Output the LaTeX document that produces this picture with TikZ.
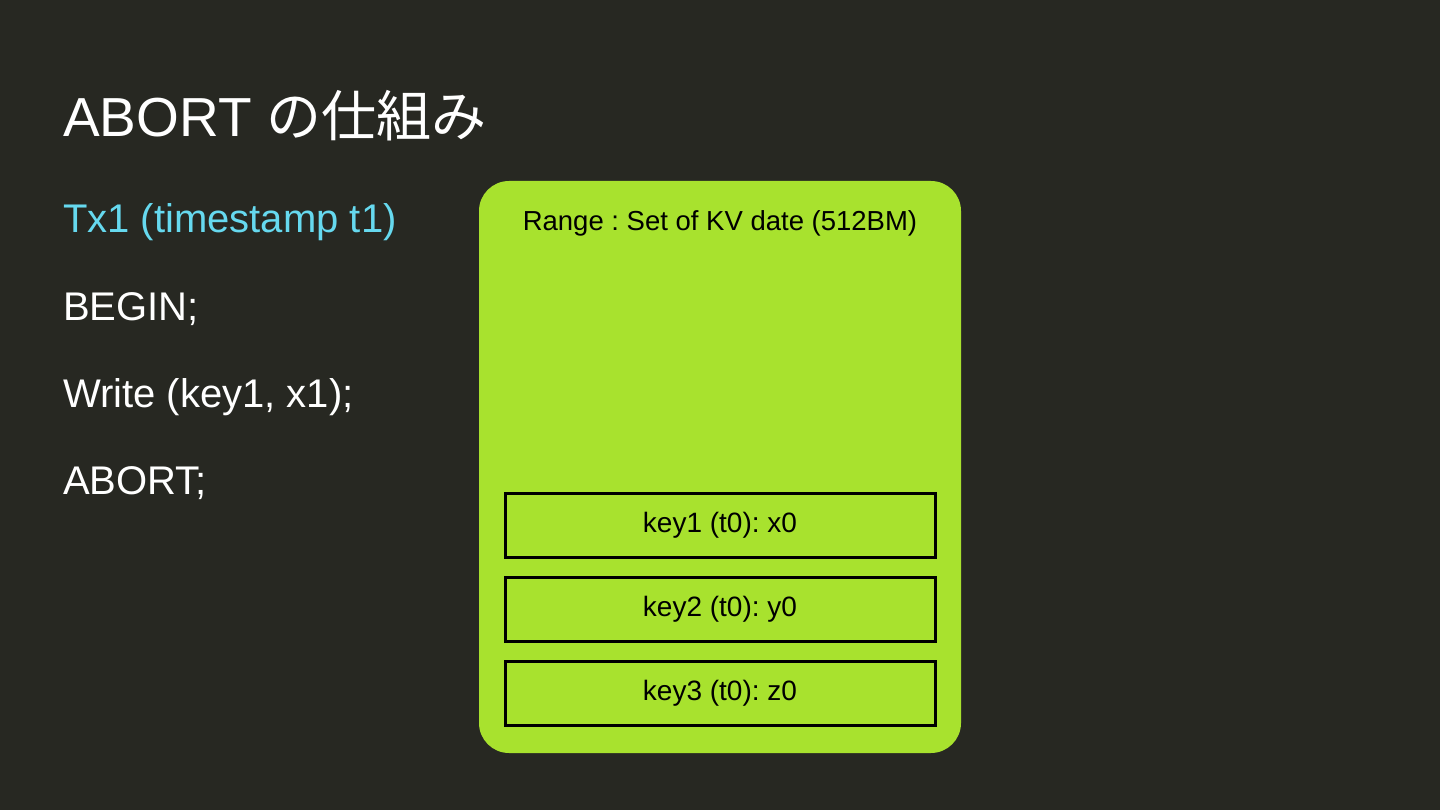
\documentclass[tikz,border=0pt]{standalone}
\usepackage{fontspec}
\setmainfont{Liberation Sans}
\newfontfamily\jpfont{Noto Sans CJK JP}
\usetikzlibrary{positioning}
\frenchspacing
\definecolor{slidebg}{HTML}{272822}
\definecolor{rangegreen}{HTML}{A8E22E}
\definecolor{txblue}{HTML}{66D9EF}
\tikzset{
  codeline/.style={anchor=base west,inner sep=0,text=white,font=\fontsize{40}{48}\selectfont},
  keybox/.style={draw=black,line width=3pt,minimum width=430pt,minimum height=64pt,inner sep=0,font=\fontsize{28}{34}\selectfont},
}

\begin{document}
\begin{tikzpicture}[x=1pt,y=-1pt]
\fill[slidebg] (0,0) rectangle (1440,810);
\useasboundingbox (0,0) rectangle (1440,810);
\node[codeline,font=\fontsize{55}{66}\selectfont] (title) at (63,137) {ABORT {\jpfont の仕組み}};
\node[codeline,text=txblue] (tx) at (63,233) {Tx1 (timestamp t1)};
\node[codeline] (begin) at (63,320) {BEGIN;};
\node[codeline] (write) at (63,407) {Write (key1, x1);};
\node[codeline] (abort) at (63,494) {ABORT;};
% range box
\node[fill=rangegreen,rounded corners=30pt,minimum width=482pt,minimum height=572pt,inner sep=0] (range) at (720,467) {};
\node[anchor=base,inner sep=0,font=\fontsize{27.5}{33}\selectfont] (rangelabel) at (720,231) {Range : Set of KV date (512BM)};
\node[keybox] (key1) at (720,525) {key1 (t0): x0};
\node[keybox,below=17pt of key1] (key2) {key2 (t0): y0};
\node[keybox,below=17pt of key2] (key3) {key3 (t0): z0};
\end{tikzpicture}
\end{document}
